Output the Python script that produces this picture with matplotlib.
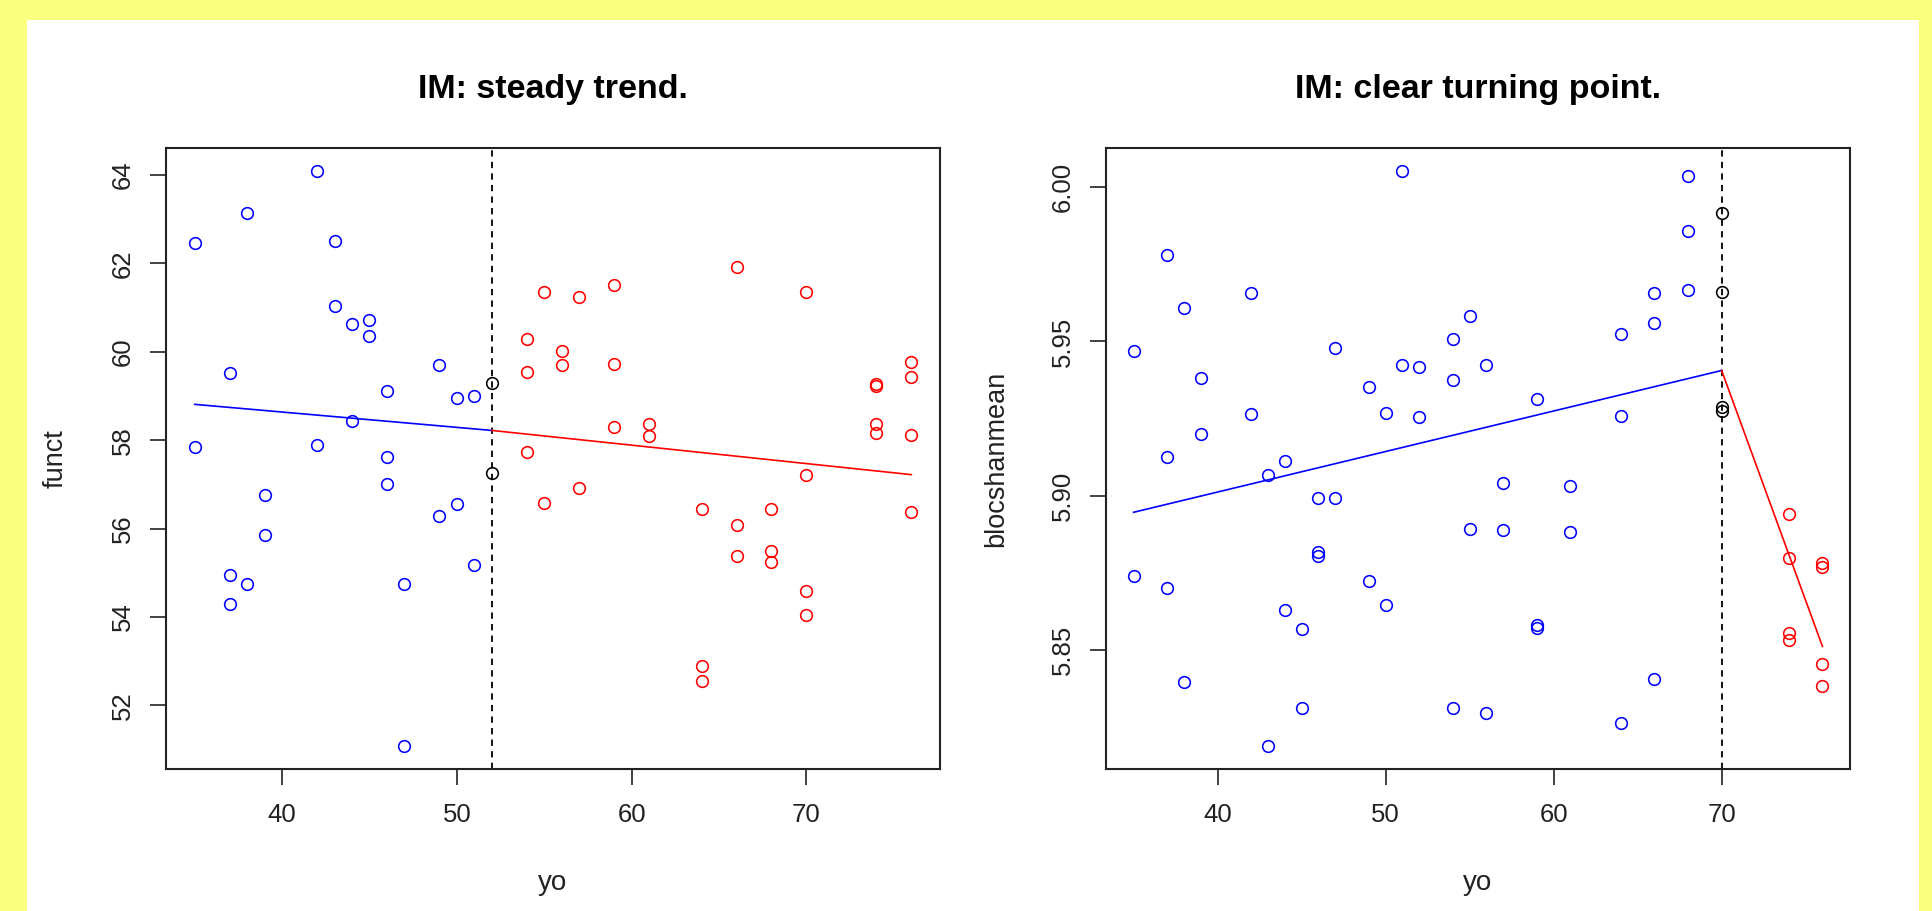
import numpy as np
import matplotlib
matplotlib.use("Agg")
import matplotlib.pyplot as plt
from matplotlib.patches import Rectangle

plt.rcParams['font.family'] = ['Liberation Sans', 'DejaVu Sans']

# ---- data -------------------------------------------------------------
yo = [35, 35, 37, 37, 37, 38, 38, 39, 39, 42, 42, 43, 43, 44, 44, 45, 45,
      46, 46, 46, 47, 47, 49, 49, 50, 50, 51, 51, 52, 52,
      54, 54, 54, 55, 55, 56, 56, 57, 57, 59, 59, 59, 61, 61,
      64, 64, 64, 66, 66, 66, 68, 68, 68, 70, 70, 70, 70,
      74, 74, 74, 74, 76, 76, 76, 76]

funct = [62.46, 57.84, 59.52, 54.96, 54.29, 63.13, 54.74, 56.77, 55.85,
         64.09, 57.88, 62.50, 61.03, 60.62, 58.44, 60.73, 60.36,
         59.11, 57.63, 57.00, 54.74, 51.08, 59.69, 56.29, 58.96, 56.56,
         59.00, 55.18, 59.29, 57.26,
         60.28, 59.55, 57.73, 61.35, 56.58, 60.02, 59.69, 61.25, 56.92,
         61.51, 59.73, 58.29, 58.36, 58.09,
         56.44, 52.89, 52.56, 61.91, 56.07, 55.37, 56.44, 55.49, 55.25,
         61.35, 57.22, 54.59, 54.04,
         59.28, 59.22, 58.36, 58.17, 59.77, 59.43, 58.11, 56.37]

blocshanmean = [5.9470, 5.8739, 5.9782, 5.9125, 5.8701, 5.9608, 5.8395,
                5.9380, 5.9201, 5.9656, 5.9264, 5.9068, 5.8188, 5.9114,
                5.8628, 5.8569, 5.8311, 5.8994, 5.8816, 5.8805, 5.9480,
                5.8994, 5.9353, 5.8723, 5.9269, 5.8644, 6.0053, 5.9423,
                5.9417, 5.9254,
                5.9507, 5.9375, 5.8311, 5.9583, 5.8893, 5.9423, 5.8294,
                5.9042, 5.8887, 5.9312, 5.8581, 5.8570, 5.9031, 5.8882,
                5.9523, 5.9259, 5.8263, 5.9656, 5.9560, 5.8406,
                6.0038, 5.9857, 5.9666, 5.9916, 5.9661, 5.9288, 5.9276,
                5.8941, 5.8798, 5.8553, 5.8532, 5.8780, 5.8770, 5.8453,
                5.8384]

# breakpoints and fitted segmented-regression lines
break_steady = 52
fit_steady_x = [35, 52, 76]
fit_steady_y = [58.81, 58.22, 57.22]

break_turning = 70
fit_turning_x = [35, 70, 76]
fit_turning_y = [5.8946, 5.9406, 5.8511]

titles = ["IM: steady trend.", "IM: clear turning point."]
ylabels = ["funct", "blocshanmean"]
xticks = [40, 50, 60, 70]
yticks_steady = [52, 54, 56, 58, 60, 62, 64]
yticks_turning = [5.85, 5.90, 5.95, 6.00]
ytick_labels_turning = ["5.85", "5.90", "5.95", "6.00"]

# ---- figure -----------------------------------------------------------
W, H, DPI = 1933, 911, 100
fig = plt.figure(figsize=(W / DPI, H / DPI), dpi=DPI, facecolor="#FAFF80")
# white page inside the yellow frame
page = fig.add_axes([27 / W, 0, (1919 - 27) / W, 1 - 20 / H], zorder=-10)
page.set_axis_off()
page.add_patch(Rectangle((0, 0), 1, 1, transform=page.transAxes,
                         facecolor="white", edgecolor="none"))

TXT = "#222222"


def r_range(v):
    lo, hi = min(v), max(v)
    pad = (hi - lo) * 0.04
    return lo - pad, hi + pad


def panel(rect, x, y, bp, fx, fy, title, ylabel, yticks, yticklabels):
    ax = fig.add_axes(rect)
    ax.set_facecolor("white")
    x = np.asarray(x)
    y = np.asarray(y)
    colors = np.where(x < bp, "#0000FF", np.where(x > bp, "#FF0000", "black"))
    for c in ["#0000FF", "#FF0000", "black"]:
        m = colors == c
        ax.plot(x[m], y[m], linestyle="none", marker="o", markersize=8.4,
                markerfacecolor="none", markeredgecolor=c,
                markeredgewidth=1.15, zorder=3)
    ax.axvline(bp, color="black", lw=1.3, linestyle=(0, (3.5, 2.9)), zorder=2)
    ax.plot(fx[:2], fy[:2], color="#0000FF", lw=1.2, zorder=4)
    ax.plot(fx[1:], fy[1:], color="#FF0000", lw=1.2, zorder=4)

    ax.set_xlim(*r_range(x))
    ax.set_ylim(*r_range(y))
    ax.set_xticks(xticks)
    ax.set_xticklabels([str(t) for t in xticks])
    ax.set_yticks(yticks)
    ax.set_yticklabels(yticklabels, rotation=90, va="center")
    ax.tick_params(axis="both", direction="out", length=11.5, width=1.2,
                   labelsize=18.5, colors=TXT, labelcolor=TXT)
    ax.tick_params(axis="x", pad=13)
    ax.tick_params(axis="y", pad=11)
    for s in ax.spines.values():
        s.set_linewidth(1.5)
        s.set_color(TXT)
    ax.set_xlabel("yo", fontsize=20, color=TXT, labelpad=31)
    ax.set_ylabel(ylabel, fontsize=19.5, color=TXT, labelpad=30)
    ax.set_title(title, fontsize=24.5, fontweight="bold", pad=36)
    return ax


ax1 = panel([166 / W, 1 - 769 / H, (940 - 166) / W, (769 - 148) / H],
            yo, funct, break_steady, fit_steady_x, fit_steady_y,
            titles[0], ylabels[0], yticks_steady,
            [str(t) for t in yticks_steady])
ax2 = panel([1106 / W, 1 - 769 / H, (1850 - 1106) / W, (769 - 148) / H],
            yo, blocshanmean, break_turning, fit_turning_x, fit_turning_y,
            titles[1], ylabels[1], yticks_turning, ytick_labels_turning)

fig.savefig("out.png", dpi=DPI, facecolor=fig.get_facecolor())
